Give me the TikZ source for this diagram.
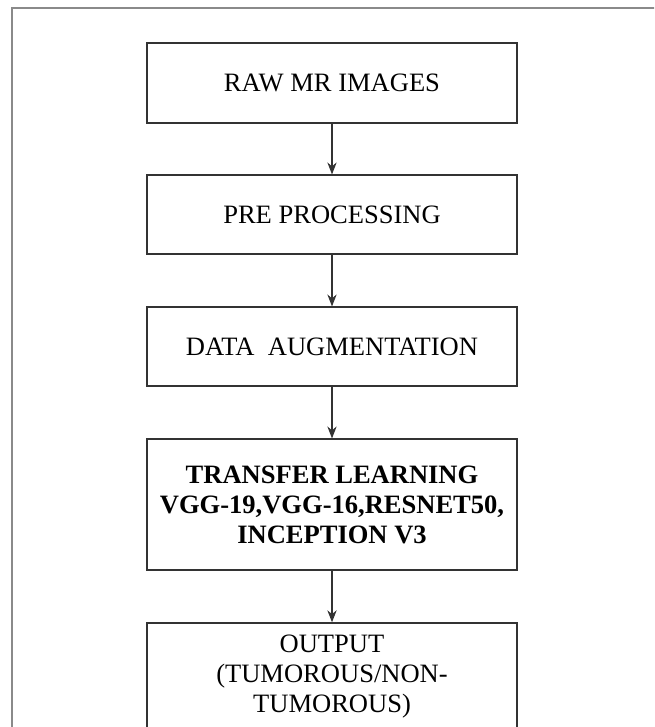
\documentclass[tikz,border=0pt]{standalone}
\usepackage{fontspec}
\setmainfont{Liberation Serif}
\usetikzlibrary{arrows.meta}
\definecolor{flowLine}{HTML}{333333}
\definecolor{flowFrame}{HTML}{8A8A8A}

\begin{document}
\begin{tikzpicture}[x=0.75pt,y=-0.75pt,
  s/.style={draw=flowLine,line width=1.1pt,minimum width=277.5pt,
            inner sep=0pt,align=center,font=\fontsize{19.9}{22.5}\selectfont},
  a/.style={-{Stealth[length=9pt,width=7pt]},flowLine,line width=0.9pt}]
  \useasboundingbox (0,0) rectangle (654,727);
  \clip (0,0) rectangle (654,727);
  % outer frame
  \draw[flowFrame,line width=1.3pt] (12,740) -- (12,8) -- (670,8);
  \node[s,minimum height=60pt]   (raw) at (332,83)    {RAW MR IMAGES};
  \node[s,minimum height=59pt]   (pre) at (332,214.5) {PRE PROCESSING};
  \node[s,minimum height=59pt]   (aug) at (332,346.5) {DATA\ \ AUGMENTATION};
  \node[s,minimum height=98pt,font=\fontsize{19.9}{22.5}\selectfont\bfseries]
                                 (tl)  at (332,504.5) {TRANSFER LEARNING\\VGG-19,VGG-16,RESNET50,\\INCEPTION V3};
  \node[s,minimum height=81pt]   (out) at (332,677)   {OUTPUT\\(TUMOROUS/NON-\\TUMOROUS)};
  \draw[a](raw)--(pre);\draw[a](pre)--(aug);\draw[a](aug)--(tl);\draw[a](tl)--(out);
\end{tikzpicture}
\end{document}
